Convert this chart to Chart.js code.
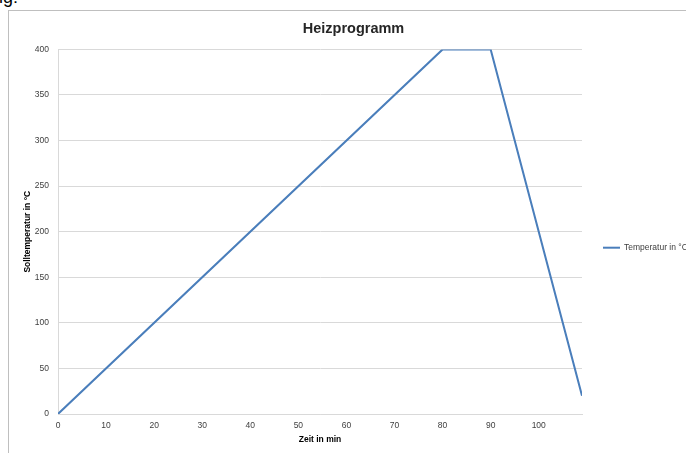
<!DOCTYPE html>
<html>
<head>
<meta charset="utf-8">
<script src="https://cdn.jsdelivr.net/npm/chart.js@4"></script>
<style>
  html, body { margin: 0; padding: 0; width: 686px; height: 453px; overflow: hidden; background: #fff; }
  #cut { position: absolute; left: -1px; top: -13px; font: 18px "Liberation Sans", sans-serif; color: #000; }
  #frame { position: absolute; left: 8px; top: 10px; width: 700px; height: 460px;
           border-left: 1px solid #bfbfbf; border-top: 1px solid #bfbfbf; }
  #chart { position: absolute; left: 0; top: 0; }
</style>
</head>
<body>
<div id="cut">ig:</div>
<div id="frame">
  <canvas id="chart" width="689" height="442"></canvas>
</div>
<script>
// Daten Heizprogramm
const zeit = [0, 80, 90, 109];
const temperatur = [0, 400, 400, 20];
const xTicks = [0, 10, 20, 30, 40, 50, 60, 70, 80, 90, 100];
const yTicks = [0, 50, 100, 150, 200, 250, 300, 350, 400];
const serienName = 'Temperatur in °C';

const fontFam = '"Liberation Sans", Arial, sans-serif';
const textColor = '#404040';

// Legende rechts, wie bei Excel (abgeschnitten am Rand)
const legendePlugin = {
    id: 'legende',
    afterDraw(chart) {
        const ctx = chart.ctx;
        const area = chart.chartArea;
        const ds = chart.data.datasets[0];
        const y = (area.top + area.bottom) / 2 + 16;
        const x = area.right + 21;
        ctx.save();
        ctx.strokeStyle = ds.borderColor;
        ctx.lineWidth = 2;
        ctx.beginPath();
        ctx.moveTo(x, y);
        ctx.lineTo(x + 17, y);
        ctx.stroke();
        ctx.fillStyle = textColor;
        ctx.font = '8.5px ' + fontFam;
        ctx.textBaseline = 'middle';
        ctx.fillText(ds.label, x + 21, y);
        ctx.restore();
    }
};

const ctx = document.getElementById('chart').getContext('2d');
new Chart(ctx, {
    type: 'line',
    data: {
        datasets: [{
            label: serienName,
            data: zeit.map((z, i) => ({ x: z, y: temperatur[i] })),
            borderColor: '#4a7ebb',
            backgroundColor: '#4a7ebb',
            borderWidth: 2,
            pointRadius: 0,
            tension: 0
        }]
    },
    options: {
        responsive: false,
        animation: false,
        layout: { padding: 0 },
        plugins: {
            legend: { display: false },
            tooltip: { enabled: false },
            title: {
                display: true,
                text: 'Heizprogramm',
                color: '#262626',
                font: { family: fontFam, size: 14.5, weight: 'bold' },
                padding: { top: 9, bottom: 12 }
            }
        },
        scales: {
            x: {
                type: 'linear',
                min: 0,
                max: 109,
                afterBuildTicks: function(scale) {
                    scale.ticks = xTicks.map(v => ({ value: v }));
                },
                afterFit: function(scale) { scale.height = 39; },
                grid: { display: true, drawOnChartArea: false, drawTicks: false },
                border: { color: '#d9d9d9', width: 1 },
                ticks: { color: textColor, font: { family: fontFam, size: 8.5 }, padding: 7, maxRotation: 0 },
                title: {
                    display: true,
                    text: 'Zeit in min',
                    color: '#000',
                    font: { family: fontFam, size: 8.5, weight: 'bold' },
                    padding: 8
                }
            },
            y: {
                min: 0,
                max: 400,
                afterBuildTicks: function(scale) {
                    scale.ticks = yTicks.map(v => ({ value: v }));
                },
                afterFit: function(scale) { scale.width = 49; },
                grid: { color: '#d9d9d9', drawTicks: false },
                border: { color: '#d9d9d9', width: 1 },
                ticks: { color: textColor, font: { family: fontFam, size: 8.5 }, padding: 9 },
                title: {
                    display: true,
                    text: 'Solltemperatur in °C',
                    color: '#000',
                    font: { family: fontFam, size: 8.5, weight: 'bold' },
                    padding: 14
                }
            },
            // leerer Platz rechts fuer die Legende
            rechts: {
                type: 'linear',
                position: 'right',
                display: true,
                afterFit: function(scale) { scale.width = 116; },
                grid: { display: false, drawTicks: false },
                border: { display: false },
                ticks: { display: false }
            }
        }
    },
    plugins: [legendePlugin]
});
</script>
</body>
</html>
